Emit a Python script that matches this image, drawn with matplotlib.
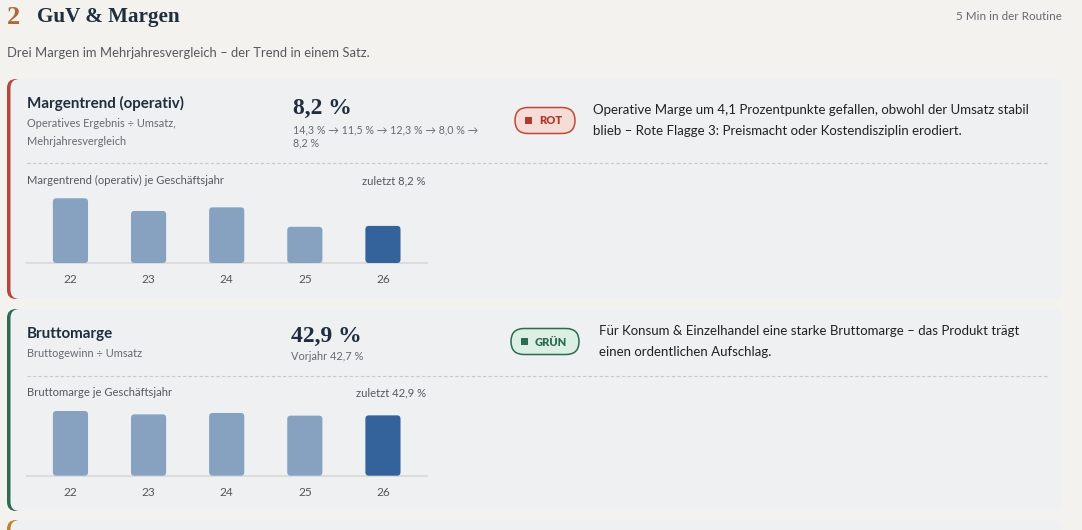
import matplotlib.pyplot as plt
from matplotlib.patches import FancyBboxPatch
import numpy as np

years = ["22", "23", "24", "25", "26"]
op_margin = [14.3, 11.5, 12.3, 8.0, 8.2]
gross_margin = [46.0, 43.6, 44.6, 42.7, 42.9]

page_bg = "#f4f2ee"
card_bg = "#eef0f2"
navy = "#1f2d3d"
grey = "#666a70"
bar_light = "#87a2c0"
bar_dark = "#33639a"
SANS = ["Lato", "DejaVu Sans"]
SERIF = ["Liberation Serif", "DejaVu Serif"]

W, H = 1082, 530
fig = plt.figure(figsize=(W / 100, H / 100), dpi=100, facecolor=page_bg)
bg = fig.add_axes([0, 0, 1, 1])
bg.set_xlim(0, W)
bg.set_ylim(H, 0)
bg.axis("off")


def card(y0, y1, edge):
    # coloured left border: a rounded strip partly covered by the card body
    bg.add_patch(FancyBboxPatch((7, y0), 60, y1 - y0, boxstyle="round,pad=0,rounding_size=9",
                                fc=edge, ec="none", zorder=1))
    bg.add_patch(FancyBboxPatch((10.5, y0), 1051.5, y1 - y0, boxstyle="round,pad=0,rounding_size=9",
                                fc=card_bg, ec="none", zorder=2))


def badge(x0, x1, yc, label, fc, ec, tc):
    bg.add_patch(FancyBboxPatch((x0, yc - 13), x1 - x0, 26, boxstyle="round,pad=0,rounding_size=13",
                                fc=fc, ec=ec, lw=1.1, zorder=3))
    bg.add_patch(plt.Rectangle((x0 + 10, yc - 3.5), 7, 7, fc=tc, ec="none", zorder=4))
    bg.text(x0 + 24, yc + 0.5, label, fontsize=8, fontweight="heavy", color=tc, family=SANS,
            va="center", ha="left", zorder=4)


def bar_panel(y_base, vals):
    ax = fig.add_axes([26.7 / W, (H - y_base) / H, 400 / W, 64.7 / H])
    ax.set_facecolor("none")
    x = np.arange(len(vals))
    ymax = max(vals)
    ax.set_xlim(-0.56, 4.56)
    ax.set_ylim(0, ymax)
    colors = [bar_light] * (len(vals) - 1) + [bar_dark]
    bars = ax.bar(x, vals, width=0.45, color=colors)
    xu = 5.12 / 400
    yu = ymax / 64.7
    for b in bars:
        b.set_visible(False)
        ax.add_patch(FancyBboxPatch((b.get_x(), 0), b.get_width(), b.get_height(),
                                    boxstyle="round,pad=0,rounding_size=%f" % (3.5 * xu),
                                    mutation_aspect=yu / xu, fc=b.get_facecolor(), ec="none",
                                    zorder=3, clip_on=False))
    ax.axhline(0, color="#dcdcdc", lw=1.5, zorder=1, clip_on=False)
    ax.set_xticks(x)
    ax.set_xticklabels(years, family=SANS, fontsize=8.6, color="#555555")
    ax.tick_params(axis="x", length=0, pad=8)
    ax.set_yticks([])
    for s in ax.spines.values():
        s.set_visible(False)


# header
bg.text(7, 24, "2", fontsize=19, fontweight="bold", color="#b0683a", family=SERIF, va="baseline")
bg.text(37, 22, "GuV & Margen", fontsize=15.2, fontweight="bold", color=navy, family=SERIF, va="baseline")
bg.text(1062, 20, "5 Min in der Routine", fontsize=8.4, color=grey, family=SANS, ha="right", va="baseline")
bg.text(7, 57, "Drei Margen im Mehrjahresvergleich – der Trend in einem Satz.", fontsize=9.4,
        color="#55595e", family=SANS, va="baseline")

# card 1
card(79, 299, "#b5473a")
bg.text(27, 108, "Margentrend (operativ)", fontsize=10.9, fontweight="bold", color=navy, family=SANS, va="baseline")
bg.text(27, 127, "Operatives Ergebnis ÷ Umsatz,", fontsize=7.9, color=grey, family=SANS, va="baseline")
bg.text(27, 145, "Mehrjahresvergleich", fontsize=7.9, color=grey, family=SANS, va="baseline")
bg.text(293, 114, "8,2 %", fontsize=17, fontweight="bold", color=navy, family=SERIF, va="baseline")
bg.text(293, 133, "14,3 % → 11,5 % → 12,3 % → 8,0 % →", fontsize=7.7, color=grey, family=SANS, va="baseline")
bg.text(293, 146, "8,2 %", fontsize=7.7, color=grey, family=SANS, va="baseline")
badge(515, 575, 120.5, "ROT", "#f5dcd6", "#c0483a", "#b0392b")
bg.text(593, 114, "Operative Marge um 4,1 Prozentpunkte gefallen, obwohl der Umsatz stabil",
        fontsize=9.5, color="#222222", family=SANS, va="baseline")
bg.text(593, 135, "blieb – Rote Flagge 3: Preismacht oder Kostendisziplin erodiert.",
        fontsize=9.5, color="#222222", family=SANS, va="baseline")
bg.plot([27, 1047], [163, 163], color="#c9c9c9", lw=0.8, ls=(0, (3, 2)), zorder=3)
bg.text(27, 184, "Margentrend (operativ) je Geschäftsjahr", fontsize=8.1, color="#55595e", family=SANS, va="baseline")
bg.text(426, 184, "zuletzt 8,2 %", fontsize=8.1, color="#55595e", family=SANS, va="baseline", ha="right")
bar_panel(263, op_margin)

# card 2
card(309, 511, "#2e6b50")
bg.text(27, 338, "Bruttomarge", fontsize=10.9, fontweight="bold", color=navy, family=SANS, va="baseline")
bg.text(27, 357, "Bruttogewinn ÷ Umsatz", fontsize=7.9, color=grey, family=SANS, va="baseline")
bg.text(291, 342, "42,9 %", fontsize=17, fontweight="bold", color=navy, family=SERIF, va="baseline")
bg.text(291, 360, "Vorjahr 42,7 %", fontsize=7.9, color=grey, family=SANS, va="baseline")
badge(511, 579, 341.5, "GRÜN", "#dcefe5", "#2e6b50", "#2e6b50")
bg.text(599, 335, "Für Konsum & Einzelhandel eine starke Bruttomarge – das Produkt trägt",
        fontsize=9.5, color="#222222", family=SANS, va="baseline")
bg.text(599, 356, "einen ordentlichen Aufschlag.",
        fontsize=9.5, color="#222222", family=SANS, va="baseline")
bg.plot([27, 1047], [376, 376], color="#c9c9c9", lw=0.8, ls=(0, (3, 2)), zorder=3)
bg.text(27, 396, "Bruttomarge je Geschäftsjahr", fontsize=8.1, color="#55595e", family=SANS, va="baseline")
bg.text(426, 396, "zuletzt 42,9 %", fontsize=8.1, color="#55595e", family=SANS, va="baseline", ha="right")
bar_panel(475.7, gross_margin)

# card 3 (cut off at the bottom edge)
card(520, 560, "#b8862b")

fig.savefig("out.png", dpi=100, facecolor=page_bg)
